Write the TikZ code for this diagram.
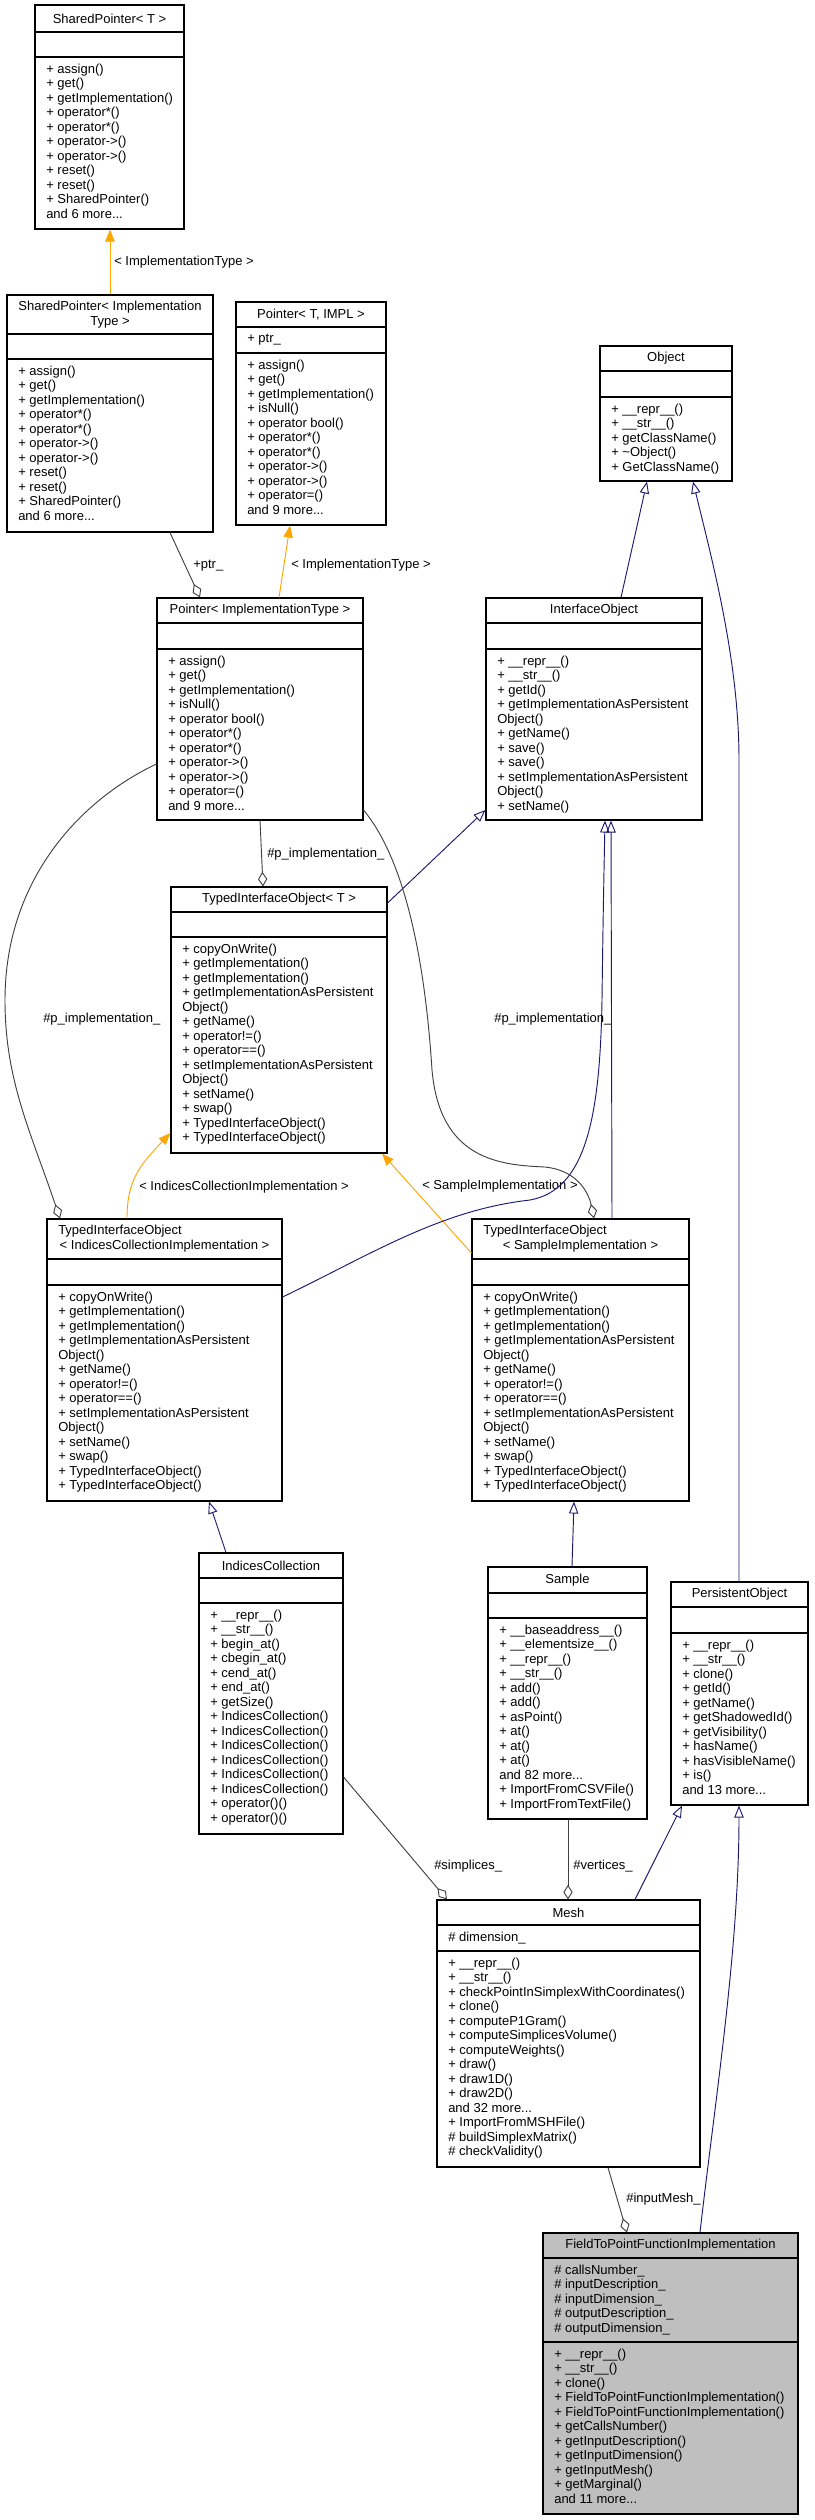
\documentclass[tikz,border=0pt]{standalone}
\usepackage{fontspec}
\setmainfont{Liberation Sans}
\usetikzlibrary{arrows.meta,fit}

\definecolor{edgegray}{HTML}{404040}
\definecolor{inheritblue}{HTML}{191970}
\definecolor{templorange}{HTML}{FFA500}
\definecolor{boxgray}{HTML}{BFBFBF}

\newcommand{\classfont}{\fontsize{9.75pt}{10.875pt}\selectfont}

% box of one class: [fill] name, left, top, right, bottom, first and second separator
\newcommand{\classbox}[8][white]{%
  \node[classbox, fill=#1, fit={(#3,#4) (#5,#6)}] (#2) {};
  \draw[sepline] (#3,#7) -- (#5,#7) (#3,#8) -- (#5,#8);
}

\newcommand{\sptmembers}{+ assign()\\+ get()\\+ getImplementation()\\+ operator*()\\+ operator*()\\+ operator->()\\+ operator->()\\+ reset()\\+ reset()\\+ SharedPointer()\\and 6 more...}
\newcommand{\ptrmembers}{+ assign()\\+ get()\\+ getImplementation()\\+ isNull()\\+ operator bool()\\+ operator*()\\+ operator*()\\+ operator->()\\+ operator->()\\+ operator=()\\and 9 more...}
\newcommand{\tiomembers}{+ copyOnWrite()\\+ getImplementation()\\+ getImplementation()\\+ getImplementationAsPersistent\\Object()\\+ getName()\\+ operator!=()\\+ operator==()\\+ setImplementationAsPersistent\\Object()\\+ setName()\\+ swap()\\+ TypedInterfaceObject()\\+ TypedInterfaceObject()}

\tikzset{
  classbox/.style={draw=black, line width=0.8pt, inner sep=0pt},
  sepline/.style={draw=black, line width=0.8pt},
  classtitle/.style={inner sep=0pt, font=\classfont},
  members/.style={align=left, inner sep=0pt, anchor=north west, font=\classfont},
  elabel/.style={inner sep=0pt, anchor=base west, font=\classfont},
  usage/.style={draw=edgegray, line width=0.7pt, {Diamond[open,length=11pt,width=7pt]}-},
  inheritline/.style={draw=inheritblue, line width=0.7pt, -{Triangle[open,length=9pt,width=7pt]}},
  templline/.style={draw=templorange, line width=0.7pt, -{Triangle[length=9pt,width=7pt]}},
}

\begin{document}
\begin{tikzpicture}[x=0.75pt, y=-0.75pt]
  \useasboundingbox (0,0) rectangle (814,2520);

  % templates and pointers
  \classbox{sptT}{35}{5}{184}{229}{32}{57}
  \node[classtitle] (sptTt) at (109.5,18.5) {SharedPointer< T >};
  \node[members] (sptTm) at (46,63.5) {\sptmembers};

  \classbox{sptImpl}{7}{295}{213}{532}{334}{359}
  \node[classtitle, align=center] (sptImplt) at (110,314.5) {SharedPointer< Implementation\\Type >};
  \node[members] (sptImplm) at (18,365.5) {\sptmembers};

  \classbox{ptrTI}{236}{302}{386}{525}{327}{353}
  \node[classtitle] (ptrTIt) at (311,314.5) {Pointer< T, IMPL >};
  \node[members] (ptrTIa) at (247,333.5) {+ ptr\_};
  \node[members] (ptrTIm) at (247,359.5) {\ptrmembers};

  \classbox{obj}{600}{346}{732}{481}{371}{397}
  \node[classtitle] (objt) at (666,358.5) {Object};
  \node[members] (objm) at (611,403.5) {+ \_\_repr\_\_()\\+ \_\_str\_\_()\\+ getClassName()\\+ \textasciitilde Object()\\+ GetClassName()};

  \classbox{ptrImpl}{157}{598}{363}{820}{623}{649}
  \node[classtitle] (ptrImplt) at (260,610.5) {Pointer< ImplementationType >};
  \node[members] (ptrImplm) at (168,655.5) {\ptrmembers};

  \classbox{iobj}{486}{598}{702}{820}{623}{649}
  \node[classtitle] (iobjt) at (594,610.5) {InterfaceObject};
  \node[members] (iobjm) at (497,655.5) {+ \_\_repr\_\_()\\+ \_\_str\_\_()\\+ getId()\\+ getImplementationAsPersistent\\Object()\\+ getName()\\+ save()\\+ save()\\+ setImplementationAsPersistent\\Object()\\+ setName()};

  % typed interface objects
  \classbox{tioT}{171}{887}{387}{1153}{912}{937}
  \node[classtitle] (tioTt) at (279,899.5) {TypedInterfaceObject< T >};
  \node[members] (tioTm) at (182,943.5) {\tiomembers};

  \classbox{tioIdx}{47}{1219}{282}{1501}{1259}{1285}
  \node[classtitle, anchor=west] (tioIdxt) at (58,1231) {TypedInterfaceObject};
  \node[classtitle] (tioIdxu) at (164.5,1246) {< IndicesCollectionImplementation >};
  \node[members] (tioIdxm) at (58,1291.5) {\tiomembers};

  \classbox{tioSmp}{472}{1219}{689}{1501}{1259}{1285}
  \node[classtitle, anchor=west] (tioSmpt) at (483,1231) {TypedInterfaceObject};
  \node[classtitle] (tioSmpu) at (580.5,1246) {< SampleImplementation >};
  \node[members] (tioSmpm) at (483,1291.5) {\tiomembers};

  % concrete classes
  \classbox{ic}{199}{1553}{343}{1834}{1578}{1603}
  \node[classtitle] (ict) at (271,1565.5) {IndicesCollection};
  \node[members] (icm) at (210,1609.5) {+ \_\_repr\_\_()\\+ \_\_str\_\_()\\+ begin\_at()\\+ cbegin\_at()\\+ cend\_at()\\+ end\_at()\\+ getSize()\\+ IndicesCollection()\\+ IndicesCollection()\\+ IndicesCollection()\\+ IndicesCollection()\\+ IndicesCollection()\\+ IndicesCollection()\\+ operator()()\\+ operator()()};

  \classbox{smp}{488}{1567}{647}{1819}{1593}{1618}
  \node[classtitle] (smpt) at (567.5,1580) {Sample};
  \node[members] (smpm) at (499,1624.5) {+ \_\_baseaddress\_\_()\\+ \_\_elementsize\_\_()\\+ \_\_repr\_\_()\\+ \_\_str\_\_()\\+ add()\\+ add()\\+ asPoint()\\+ at()\\+ at()\\+ at()\\and 82 more...\\+ ImportFromCSVFile()\\+ ImportFromTextFile()};

  \classbox{pobj}{671}{1582}{808}{1805}{1607}{1633}
  \node[classtitle] (pobjt) at (739.5,1594.5) {PersistentObject};
  \node[members] (pobjm) at (682,1639.5) {+ \_\_repr\_\_()\\+ \_\_str\_\_()\\+ clone()\\+ getId()\\+ getName()\\+ getShadowedId()\\+ getVisibility()\\+ hasName()\\+ hasVisibleName()\\+ is()\\and 13 more...};

  \classbox{mesh}{437}{1900}{700}{2167}{1925}{1951}
  \node[classtitle] (mesht) at (568.5,1912.5) {Mesh};
  \node[members] (mesha) at (448,1931.5) {\# dimension\_};
  \node[members] (meshm) at (448,1957.5) {+ \_\_repr\_\_()\\+ \_\_str\_\_()\\+ checkPointInSimplexWithCoordinates()\\+ clone()\\+ computeP1Gram()\\+ computeSimplicesVolume()\\+ computeWeights()\\+ draw()\\+ draw1D()\\+ draw2D()\\and 32 more...\\+ ImportFromMSHFile()\\\# buildSimplexMatrix()\\\# checkValidity()};

  \classbox[boxgray]{ftp}{543}{2233}{798}{2514}{2258}{2342}
  \node[classtitle] (ftpt) at (670.5,2245.5) {FieldToPointFunctionImplementation};
  \node[members] (ftpa) at (554,2264.5) {\# callsNumber\_\\\# inputDescription\_\\\# inputDimension\_\\\# outputDescription\_\\\# outputDimension\_};
  \node[members] (ftpm) at (554,2348.5) {+ \_\_repr\_\_()\\+ \_\_str\_\_()\\+ clone()\\+ FieldToPointFunctionImplementation()\\+ FieldToPointFunctionImplementation()\\+ getCallsNumber()\\+ getInputDescription()\\+ getInputDimension()\\+ getInputMesh()\\+ getMarginal()\\and 11 more...};

  % template instances
  \draw[templline] (110,0 |- sptImpl.north) -- (110,0 |- sptT.south);
  \node[elabel] (lblSpt) at (114,265) {< ImplementationType >};
  \draw[templline] (279,0 |- ptrImpl.north) -- (290,0 |- ptrTI.south);
  \node[elabel] (lblPtr) at (291,568) {< ImplementationType >};
  \draw[templline] (127,0 |- tioIdx.north) .. controls (127,1180) and (140,1165) .. (tioT.west |- 0,1133);
  \node[elabel] (lblIdx) at (139,1190) {< IndicesCollectionImplementation >};
  \draw[templline] (tioSmp.west |- 0,1253) -- (382,0 |- tioT.south);
  \node[elabel] (lblSmp) at (422,1189) {< SampleImplementation >};

  % inheritance
  \draw[inheritline] (621,0 |- iobj.north) -- (647,0 |- obj.south);
  \draw[inheritline] (739,0 |- pobj.north) -- (739,760) .. controls (739,660) and (712,560) .. (693,0 |- obj.south);
  \draw[inheritline] (tioT.east |- 0,903) -- (iobj.west |- 0,810);
  \draw[inheritline] (tioIdx.east |- 0,1297) .. controls (370,1255) and (440,1210) .. (530,1200)
    .. controls (585,1190) and (600,1120) .. (602,1000) .. controls (603,920) and (604,870) .. (605,0 |- iobj.south);
  \draw[inheritline] (612,0 |- tioSmp.north) -- (611,0 |- iobj.south);
  \draw[inheritline] (226,0 |- ic.north) -- (209,0 |- tioIdx.south);
  \draw[inheritline] (572,0 |- smp.north) -- (574,0 |- tioSmp.south);
  \draw[inheritline] (635,0 |- mesh.north) -- (682,0 |- pobj.south);
  \draw[inheritline] (700,0 |- ftp.north) .. controls (715,2100) and (739,1950) .. (739,0 |- pobj.south);

  % members
  \draw[usage] (200,0 |- ptrImpl.north) -- (170,0 |- sptImpl.south);
  \node[elabel] (lblPtrM) at (193,568) {+ptr\_};
  \draw[usage] (263,0 |- tioT.north) -- (260,0 |- ptrImpl.south);
  \node[elabel] (lblImplT) at (267,857) {\#p\_implementation\_};
  \draw[usage] (60,0 |- tioIdx.north) .. controls (30,1130) and (5,1080) .. (5,1000)
    .. controls (5,880) and (80,800) .. (ptrImpl.west |- 0,764);
  \node[elabel] (lblImplIdx) at (43,1022) {\#p\_implementation\_};
  \draw[usage] (594,0 |- tioSmp.north) .. controls (588,1190) and (575,1170) .. (545,1167)
    .. controls (500,1165) and (440,1160) .. (432,1070) .. controls (425,960) and (405,860) .. (ptrImpl.east |- 0,810);
  \node[elabel] (lblImplSmp) at (494,1022) {\#p\_implementation\_};
  \draw[usage] (447,0 |- mesh.north) -- (ic.east |- 0,1777);
  \node[elabel] (lblSimp) at (434,1869) {\#simplices\_};
  \draw[usage] (568,0 |- mesh.north) -- (568,0 |- smp.south);
  \node[elabel] (lblVert) at (573,1869) {\#vertices\_};
  \draw[usage] (627,0 |- ftp.north) -- (608,0 |- mesh.south);
  \node[elabel] (lblMesh) at (626,2202) {\#inputMesh\_};
\end{tikzpicture}
\end{document}
